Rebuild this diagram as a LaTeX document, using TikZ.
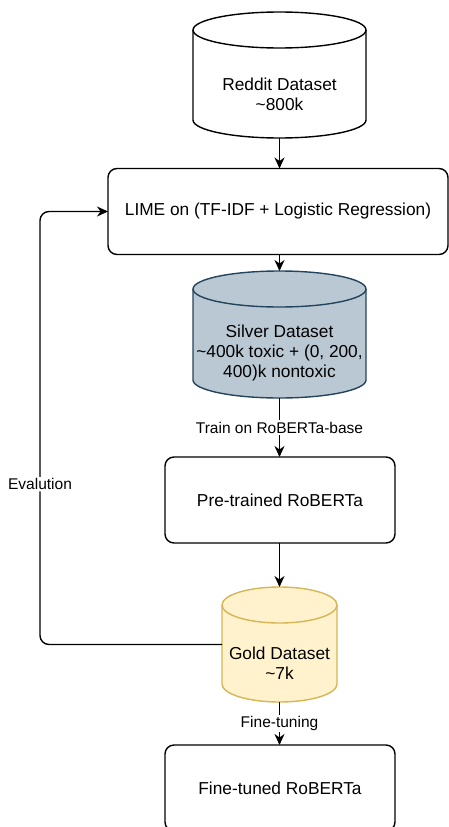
\documentclass[tikz,border=0pt]{standalone}
\usepackage{fontspec}
\setmainfont{Liberation Sans}
\usetikzlibrary{arrows.meta,calc}

\definecolor{silverfill}{HTML}{BAC8D3}
\definecolor{silverline}{HTML}{23445D}
\definecolor{goldfill}{HTML}{FFF2CC}
\definecolor{goldline}{HTML}{D6B656}

\tikzset{
  >={Stealth[length=11pt,width=10pt,inset=3.5pt]},
  box/.style={draw, rounded corners=9pt, line width=1.4pt, inner sep=0pt,
    outer sep=0pt, minimum height=86pt, font=\fontsize{17.3}{20}\selectfont},
  db/.style={inner sep=0pt, outer sep=0pt},
  dbtext/.style={align=center, inner sep=0pt, font=\fontsize{17.3}{20}\selectfont},
  lbl/.style={fill=white, inner sep=1.5pt, font=\fontsize{15.5}{18}\selectfont},
  link/.style={->, line width=1.4pt}
}

% cylinder drawn round a named node: name, fill, stroke
\newcommand{\dbcyl}[3]{%
  \path[fill=#2, draw=#3, line width=1.4pt]
    let \p1=(#1.west), \p2=(#1.east), \n1={0.5*(\x2-\x1)} in
    ([yshift=-18pt]#1.north west) -- ([yshift=18pt]#1.south west)
    arc[start angle=180, end angle=360, x radius=\n1, y radius=18pt]
    -- ([yshift=-18pt]#1.north east)
    arc[start angle=0, end angle=180, x radius=\n1, y radius=18pt] -- cycle;
  \draw[#3, line width=1.4pt]
    let \p1=(#1.west), \p2=(#1.east), \n1={0.5*(\x2-\x1)} in
    ([yshift=-18pt]#1.north west)
    arc[start angle=180, end angle=360, x radius=\n1, y radius=18pt];
}

\begin{document}
\begin{tikzpicture}[x=1pt,y=1pt]
  \useasboundingbox (0,0) rectangle (449,-827);

  % datasets
  \node[db, minimum width=173pt, minimum height=126pt] (reddit) at (279.5,-75) {};
  \dbcyl{reddit}{white}{black}
  \node[dbtext] (reddittext) at ([yshift=-19pt]reddit.center)
    {Reddit Dataset\\\textasciitilde800k};

  \node[db, minimum width=173pt, minimum height=127pt] (silver) at (279.5,-334.5) {};
  \dbcyl{silver}{silverfill}{silverline}
  \node[dbtext] (silvertext) at ([yshift=-19pt]silver.center)
    {Silver Dataset\\\textasciitilde400k toxic + (0, 200,\\400)k nontoxic};

  \node[db, minimum width=115pt, minimum height=115pt] (gold) at (279.5,-644.5) {};
  \dbcyl{gold}{goldfill}{goldline}
  \node[dbtext] (goldtext) at ([yshift=-19pt]gold.center)
    {Gold Dataset\\\textasciitilde7k};

  % steps
  \node[box, minimum width=340pt] (lime) at (278,-211.5)
    {LIME on (TF-IDF + Logistic Regression)};
  \node[box, minimum width=230pt] (pretrained) at (280,-500) {Pre-trained RoBERTa};
  \node[box, minimum width=230pt] (finetuned) at (280,-788) {Fine-tuned RoBERTa};

  \coordinate (evalx) at (40,-500);

  \draw[link] (reddit.south) -- (reddit.south |- lime.north);
  \draw[link] (lime.south -| silver.north) -- (silver.north);
  \draw[link] (silver.south) -- node[lbl] (trainlbl) {Train on RoBERTa-base}
    (silver.south |- pretrained.north);
  \draw[link] (pretrained.south -| gold.north) -- (gold.north);
  \draw[link] (gold.south) -- node[lbl] (finelbl) {Fine-tuning}
    (gold.south |- finetuned.north);
  \draw[link, rounded corners=9pt] (gold.west) -- (evalx |- gold.west)
    -- node[lbl, pos=0.37] (evallbl) {Evalution} (evalx |- lime.west) -- (lime.west);
\end{tikzpicture}
\end{document}
